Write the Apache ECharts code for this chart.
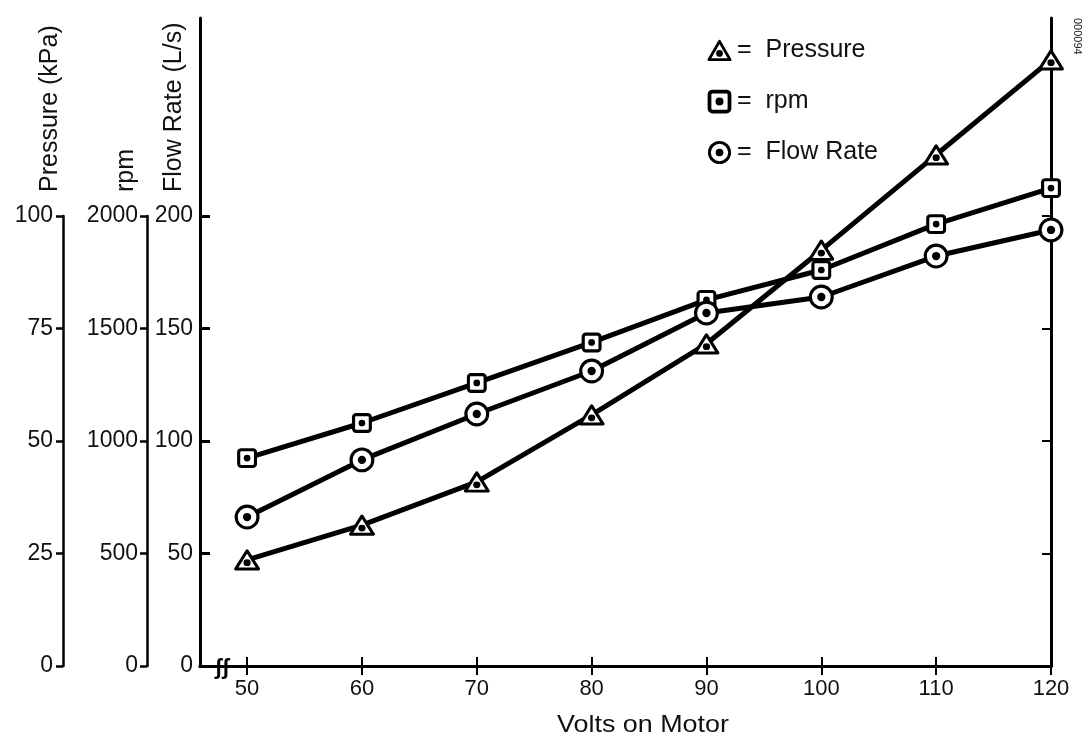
<!DOCTYPE html>
<html>
<head>
<meta charset="utf-8">
<script src="https://cdn.jsdelivr.net/npm/echarts@6/dist/echarts.min.js"></script>
<style>
  html, body { margin: 0; background: #fff; }
  #chart { width: 1085px; height: 741px; }
</style>
</head>
<body>
<div id="chart"></div>
<script>
// values
const volts = [50, 60, 70, 80, 90, 100, 110, 120];
const pressure = [23.6, 31.3, 40.9, 55.8, 71.6, 92.4, 113.6, 134.7];
const rpm = [924, 1080, 1258, 1438, 1627, 1760, 1964, 2124];
const flowRate = [66.2, 91.6, 112, 131.1, 156.9, 164, 182.2, 193.8];

const voltTicks = [50, 60, 70, 80, 90, 100, 110, 120];
const flowTicks = [0, 50, 100, 150, 200];
const seriesNames = ['Pressure', 'rpm', 'Flow Rate'];

const FONT = 'Liberation Sans, Arial, sans-serif';

function svgSymbol(body, w, h) {
  const svg = '<svg xmlns="http://www.w3.org/2000/svg" width="' + w + '" height="' + h +
    '" viewBox="0 0 ' + w + ' ' + h + '">' + body + '</svg>';
  return 'image://data:image/svg+xml;charset=utf-8,' + encodeURIComponent(svg);
}
const triSym = svgSymbol('<path d="M13 2.5 L24 21.5 L2 21.5 Z" fill="#fff" stroke="#000" stroke-width="3" stroke-linejoin="round"/><circle cx="13" cy="15" r="3.5" fill="#000"/>', 26, 24);
const sqSym = svgSymbol('<rect x="2" y="2" width="16" height="16" rx="2.5" fill="#fff" stroke="#000" stroke-width="3"/><circle cx="10" cy="10" r="3.2" fill="#000"/>', 20, 20);
const circSym = svgSymbol('<circle cx="13" cy="13" r="10.5" fill="#fff" stroke="#000" stroke-width="3"/><circle cx="13" cy="13" r="4" fill="#000"/>', 26, 26);

const pairs = (ys) => volts.map((v, i) => [v, ys[i]]);
const plain = (v) => String(v);

const axisText = { color: '#111', fontFamily: FONT, fontSize: 23, formatter: plain };
const hiddenX = (grid) => ({ type: 'value', gridIndex: grid, show: false, min: 0, max: 1 });

var myChart = echarts.init(document.getElementById('chart'));

myChart.setOption({
  animation: false,
  backgroundColor: '#fff',
  grid: [
    { left: 200, right: 34, top: 18, bottom: 75 },
    { left: 63, width: 1, top: 216, bottom: 75 },
    { left: 147, width: 1, top: 216, bottom: 75 }
  ],
  legend: {
    orient: 'vertical',
    left: 702,
    top: 33,
    itemWidth: 25,
    itemHeight: 25,
    itemGap: 26,
    formatter: (name) => '=  ' + name,
    textStyle: { color: '#111', fontFamily: FONT, fontSize: 25 },
    data: [
      { name: 'Pressure', icon: triSym },
      { name: 'rpm', icon: sqSym },
      { name: 'Flow Rate', icon: circSym }
    ]
  },
  xAxis: [
    {
      type: 'value', gridIndex: 0, position: 'bottom', min: 45.9, max: 120,
      splitLine: { show: false },
      axisLine: { lineStyle: { color: '#000', width: 3 } },
      axisTick: { inside: true, length: 9, lineStyle: { color: '#000', width: 2 }, customValues: voltTicks },
      axisLabel: Object.assign({ margin: 12, customValues: voltTicks }, axisText, { fontSize: 22 })
    },
    {
      type: 'value', gridIndex: 0, position: 'top', min: 45.9, max: 120,
      splitLine: { show: false },
      axisLine: { lineStyle: { color: '#000', width: 3 } },
      axisTick: { inside: true, length: 9, lineStyle: { color: '#000', width: 2 }, customValues: voltTicks },
      axisLabel: { show: false }
    },
    hiddenX(1),
    hiddenX(2)
  ],
  yAxis: [
    {
      type: 'value', gridIndex: 0, position: 'left', min: 0, max: 288,
      splitLine: { show: false },
      axisLine: { show: true, lineStyle: { color: '#000', width: 3 } },
      axisTick: { inside: true, length: 10, lineStyle: { color: '#000', width: 3 }, customValues: flowTicks },
      axisLabel: Object.assign({ margin: 7, customValues: flowTicks }, axisText)
    },
    {
      type: 'value', gridIndex: 0, position: 'right', min: 0, max: 288,
      splitLine: { show: false },
      axisLine: { show: true, lineStyle: { color: '#000', width: 3 } },
      axisTick: { inside: true, length: 9, lineStyle: { color: '#000', width: 2 }, customValues: flowTicks },
      axisLabel: { show: false }
    },
    // plotting scales for pressure and rpm (same pixels as flow)
    { type: 'value', gridIndex: 0, min: 0, max: 144, show: false },
    { type: 'value', gridIndex: 0, min: 0, max: 2880, show: false },
    // the two extra scales drawn on the left
    {
      type: 'value', gridIndex: 1, position: 'left', min: 0, max: 100, interval: 25,
      splitLine: { show: false },
      axisLine: { show: true, lineStyle: { color: '#000', width: 2.5 } },
      axisTick: { length: 7, lineStyle: { color: '#000', width: 2.5 } },
      axisLabel: Object.assign({ margin: 10 }, axisText)
    },
    {
      type: 'value', gridIndex: 2, position: 'left', min: 0, max: 2000, interval: 500,
      splitLine: { show: false },
      axisLine: { show: true, lineStyle: { color: '#000', width: 2.5 } },
      axisTick: { length: 7, lineStyle: { color: '#000', width: 2.5 } },
      axisLabel: Object.assign({ margin: 9 }, axisText)
    }
  ],
  series: [
    {
      name: seriesNames[0], type: 'line', xAxisIndex: 0, yAxisIndex: 2,
      data: pairs(pressure),
      symbol: triSym, symbolSize: [27, 25], symbolKeepAspect: true,
      lineStyle: { color: '#000', width: 5 }, itemStyle: { color: '#000' }
    },
    {
      name: seriesNames[1], type: 'line', xAxisIndex: 0, yAxisIndex: 3,
      data: pairs(rpm),
      symbol: sqSym, symbolSize: 21, symbolKeepAspect: true,
      lineStyle: { color: '#000', width: 5 }, itemStyle: { color: '#000' }
    },
    {
      name: seriesNames[2], type: 'line', xAxisIndex: 0, yAxisIndex: 0,
      data: pairs(flowRate),
      symbol: circSym, symbolSize: 27, symbolKeepAspect: true,
      lineStyle: { color: '#000', width: 5 }, itemStyle: { color: '#000' }
    }
  ],
  graphic: [
    {
      type: 'text', x: 50, y: 192, rotation: Math.PI / 2,
      style: { text: 'Pressure (kPa)', fill: '#111', font: '25px ' + FONT, textAlign: 'left', textVerticalAlign: 'middle' }
    },
    {
      type: 'text', x: 126, y: 192, rotation: Math.PI / 2,
      style: { text: 'rpm', fill: '#111', font: '25px ' + FONT, textAlign: 'left', textVerticalAlign: 'middle' }
    },
    {
      type: 'text', x: 174, y: 192, rotation: Math.PI / 2,
      style: { text: 'Flow Rate (L/s)', fill: '#111', font: '25px ' + FONT, textAlign: 'left', textVerticalAlign: 'middle' }
    },
    {
      type: 'text', x: 643, y: 725, scaleX: 1.12,
      style: { text: 'Volts on Motor', fill: '#111', font: '24px ' + FONT, textAlign: 'center', textVerticalAlign: 'middle' }
    },
    {
      type: 'text', x: 222, y: 668,
      style: { text: 'ʃʃ', fill: '#000', font: 'bold 22px ' + FONT, textAlign: 'center', textVerticalAlign: 'middle', backgroundColor: '#fff' }
    },
    {
      type: 'text', x: 1077, y: 18, rotation: -Math.PI / 2,
      style: { text: '000094', fill: '#222', font: '11px ' + FONT, textAlign: 'left', textVerticalAlign: 'middle' }
    }
  ]
});
</script>
</body>
</html>
